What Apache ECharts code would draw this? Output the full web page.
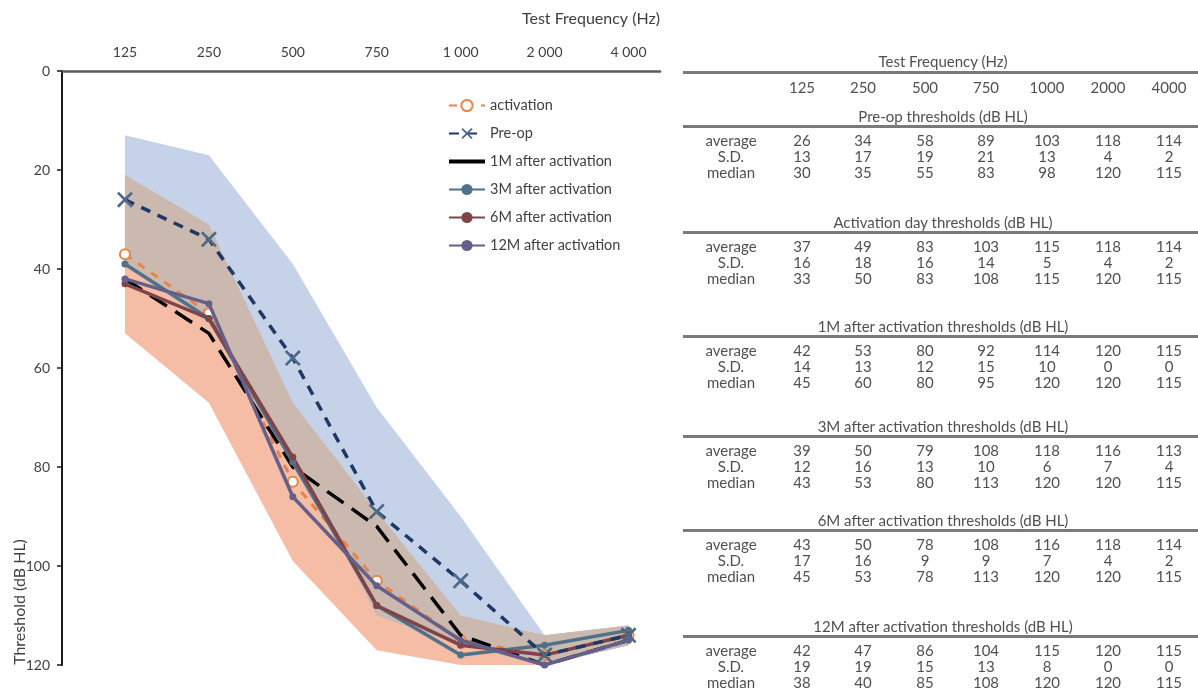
<!DOCTYPE html>
<html><head><meta charset="utf-8">
<script src="https://cdn.jsdelivr.net/npm/echarts@6/dist/echarts.min.js"></script>
<style>
html,body{margin:0;padding:0;background:#fff;}
#wrap{position:relative;width:1198px;height:700px;overflow:hidden;font-family:Lato,'Open Sans',sans-serif;}
#chart{position:absolute;left:0;top:0;width:680px;height:700px;}
#table{position:absolute;left:0;top:0;width:1198px;height:700px;pointer-events:none;}
.t{position:absolute;transform:translate(-50%,-50%);white-space:nowrap;color:#505050;font-size:15px;line-height:16px;}
.hl{position:absolute;height:0;border-top:3px solid #7a7a7a;}
</style></head><body>
<div id="wrap"><div id="chart"></div><div id="table"></div></div>
<script>
// ---------- data ----------
const freqLabels = ['125','250','500','750','1 000','2 000','4 000'];
const tableFreqs = ['125','250','500','750','1000','2000','4000'];
const rowLabels = ['average','S.D.','median'];
const preAvg = [26,34,58,89,103,118,114];
const preSD  = [13,17,19,21,13,4,2];
const preMed = [30,35,55,83,98,120,115];
const actAvg = [37,49,83,103,115,118,114];
const actSD  = [16,18,16,14,5,4,2];
const actMed = [33,50,83,108,115,120,115];
const m1Avg  = [42,53,80,92,114,120,115];
const m1SD   = [14,13,12,15,10,0,0];
const m1Med  = [45,60,80,95,120,120,115];
const m3Avg  = [39,50,79,108,118,116,113];
const m3SD   = [12,16,13,10,6,7,4];
const m3Med  = [43,53,80,113,120,120,115];
const m6Avg  = [43,50,78,108,116,118,114];
const m6SD   = [17,16,9,9,7,4,2];
const m6Med  = [45,53,78,113,120,120,115];
const m12Avg = [42,47,86,104,115,120,115];
const m12SD  = [19,19,15,13,8,0,0];
const m12Med = [38,40,85,108,120,120,115];
const seriesNames = ['activation','Pre-op','1M after activation','3M after activation','6M after activation','12M after activation'];
const sectionTitles = ['Pre-op thresholds (dB HL)','Activation day thresholds (dB HL)','1M after activation thresholds (dB HL)','3M after activation thresholds (dB HL)','6M after activation thresholds (dB HL)','12M after activation thresholds (dB HL)'];

// ---------- chart ----------
const YMAX = 120;
const FONT = 'Lato';
const pts = arr => arr.map((v,i)=>[i+1,v]);
const lowArr = (avg,sd)=>avg.map((v,i)=>Math.max(0, v-sd[i]));
const highArr = (avg,sd)=>avg.map((v,i)=>Math.min(YMAX, v+sd[i]));
const preLo = lowArr(preAvg,preSD), preHi = highArr(preAvg,preSD);
const actLo = lowArr(actAvg,actSD), actHi = highArr(actAvg,actSD);

// overlap of the two ±SD bands (exact piecewise-linear intersection)
function overlapPoints(){
  const out = [];
  const n = preLo.length;
  for(let i=0;i<n-1;i++){
    const f = [[preLo[i],preLo[i+1]],[actLo[i],actLo[i+1]],[preHi[i],preHi[i+1]],[actHi[i],actHi[i+1]]];
    const ts = [0];
    for(let a=0;a<4;a++)for(let b=a+1;b<4;b++){
      const da = f[a][1]-f[a][0], db = f[b][1]-f[b][0];
      if(da!==db){const t=(f[b][0]-f[a][0])/(da-db); if(t>1e-9&&t<1-1e-9) ts.push(t);}
    }
    if(i===n-2) ts.push(1);
    ts.sort((p,q)=>p-q);
    ts.forEach(t=>{
      const val = k => f[k][0]+(f[k][1]-f[k][0])*t;
      const U = Math.max(val(0),val(1)), D = Math.min(val(2),val(3));
      out.push([i+1+t, U, Math.max(U,D)]);
    });
  }
  return out;
}
const ovl = overlapPoints();

function bandSeries(name, rows, color, z){
  return {type:'custom', name, silent:true, z, data:rows, encode:{x:0, y:[1,2]},
    renderItem:(params, api)=>{
      if(params.dataIndex!==0) return null;
      const top = rows.map(d=>api.coord([d[0], d[1]]));
      const bot = rows.map(d=>api.coord([d[0], d[2]])).reverse();
      return {type:'polygon', shape:{points: top.concat(bot)}, style:{fill: color}};
    }};
}
const xPath = 'path://M0,1.2 L1.2,0 L5,3.8 L8.8,0 L10,1.2 L6.2,5 L10,8.8 L8.8,10 L5,6.2 L1.2,10 L0,8.8 L3.8,5 Z';

const chart = echarts.init(document.getElementById('chart'), null, {renderer:'canvas'});
chart.setOption({
  animation:false,
  backgroundColor:'#ffffff',
  grid:{left:62, top:71, right:20, bottom:35, containLabel:false},
  xAxis:{type:'value', position:'top', min:0.25, max:7.375, interval:0.25,
    axisLine:{show:true, lineStyle:{color:'#5a5a5a', width:2.5}},
    axisTick:{show:false}, splitLine:{show:false},
    axisLabel:{show:true, margin:12, color:'#404040', fontSize:14, fontFamily:FONT,
      showMinLabel:true, showMaxLabel:false,
      formatter:v=>{const i=Math.round(v); return (Math.abs(v-i)<1e-6 && i>=1 && i<=7) ? freqLabels[i-1] : '';}}},
  yAxis:{type:'value', inverse:true, min:0, max:YMAX, interval:20,
    axisLine:{show:true, lineStyle:{color:'#1a1a1a', width:2}},
    axisTick:{show:true, length:5, lineStyle:{color:'#1a1a1a', width:1.5}},
    splitLine:{show:false},
    axisLabel:{margin:12, color:'#404040', fontSize:14, fontFamily:FONT}},
  legend:{orient:'vertical', left:443, top:93, itemGap:13, itemWidth:36, itemHeight:14,
    data:seriesNames.map(n=> n==='1M after activation' ? {name:n, icon:'path://M0,0 H40 V4.5 H0 Z'} : {name:n}),
    textStyle:{color:'#404040', fontSize:14.5, fontFamily:FONT}},
  graphic:[
    {type:'text', x:591, y:19, style:{text:'Test Frequency (Hz)', fill:'#404040', font:'16px Lato', textAlign:'center', textVerticalAlign:'middle'}},
    {type:'text', x:20, y:602, rotation:Math.PI/2, style:{text:'Threshold (dB HL)', fill:'#404040', font:'16px Lato', textAlign:'center', textVerticalAlign:'middle'}}
  ],
  series:[
    bandSeries('actBand', actLo.map((v,i)=>[i+1, v, actHi[i]]), 'rgb(245,188,166)', 1),
    bandSeries('preBand', preLo.map((v,i)=>[i+1, v, preHi[i]]), 'rgb(197,210,232)', 2),
    bandSeries('overlap', ovl, 'rgb(203,184,174)', 3),
    {name:'activation', type:'line', data:pts(actAvg), z:5, symbol:'emptyCircle', symbolSize:10,
      lineStyle:{color:'#E8844A', width:3, type:[8,8]},
      itemStyle:{color:'#E8844A', borderColor:'#E8844A', borderWidth:2}},
    {name:'1M after activation', type:'line', data:pts(m1Avg), z:6, symbol:'none',
      lineStyle:{color:'#000000', width:3.5, type:[20,10]}, itemStyle:{color:'#000000'}},
    {name:'3M after activation', type:'line', data:pts(m3Avg), z:7, symbol:'circle', symbolSize:7,
      lineStyle:{color:'#4F7189', width:3.5}, itemStyle:{color:'#4F7189'}},
    {name:'6M after activation', type:'line', data:pts(m6Avg), z:7, symbol:'circle', symbolSize:7,
      lineStyle:{color:'#7E4447', width:3.5}, itemStyle:{color:'#7E4447'}},
    {name:'12M after activation', type:'line', data:pts(m12Avg), z:8, symbol:'circle', symbolSize:7,
      lineStyle:{color:'#64608A', width:3.5}, itemStyle:{color:'#64608A'}},
    {name:'Pre-op', type:'line', data:pts(preAvg), z:9, symbol:xPath, symbolSize:16,
      lineStyle:{color:'#1F3864', width:3.5, type:[10,8]},
      itemStyle:{color:'#4B6A8A'}}
  ]
});

// ---------- table ----------
const tbl = document.getElementById('table');
const colX = [731,802,863,925,986,1047,1108,1169];
const titleX = 943;
const lineL = 683, lineR = 1198;
function txt(s,x,y){const d=document.createElement('div');d.className='t';d.textContent=s;d.style.left=x+'px';d.style.top=y+'px';tbl.appendChild(d);}
function hline(y){const d=document.createElement('div');d.className='hl';d.style.left=lineL+'px';d.style.width=(lineR-lineL)+'px';d.style.top=y+'px';tbl.appendChild(d);}
txt('Test Frequency (Hz)', titleX, 61);
hline(71);
tableFreqs.forEach((f,i)=>txt(f, colX[i+1], 87));
const sectionY = [116,222,326,426,520,626];
const groups = [[preAvg,preSD,preMed],[actAvg,actSD,actMed],[m1Avg,m1SD,m1Med],[m3Avg,m3SD,m3Med],[m6Avg,m6SD,m6Med],[m12Avg,m12SD,m12Med]];
groups.forEach((g,gi)=>{
  const y0 = sectionY[gi];
  txt(sectionTitles[gi], titleX, y0);
  hline(y0+9);
  g.forEach((row,ri)=>{
    const y = y0 + 24 + ri*16;
    txt(rowLabels[ri], colX[0], y);
    row.forEach((v,ci)=>txt(String(v), colX[ci+1], y));
  });
});
</script>
</body></html>
